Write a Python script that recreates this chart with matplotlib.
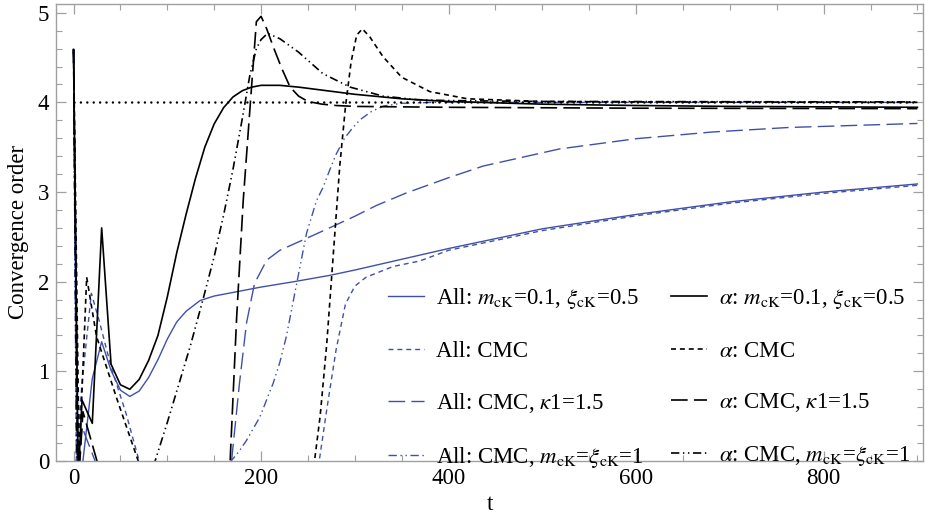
import matplotlib
matplotlib.use("Agg")
import matplotlib.pyplot as plt
from matplotlib.ticker import MultipleLocator

# --- data ---
t_all_m01 = [0, 5, 10, 20, 30, 40, 50, 60, 70, 80, 90, 100, 110, 120, 135, 150, 175, 200,
             235, 273, 300, 350, 400, 500, 600, 700, 800, 900]
y_all_m01 = [4.59, -0.6, 0.0, 0.92, 1.33, 1.01, 0.79, 0.72, 0.78, 0.93, 1.13, 1.36, 1.55, 1.67,
             1.79, 1.84, 1.89, 1.94, 2.0, 2.07, 2.13, 2.25, 2.37, 2.59, 2.75, 2.89, 3.0, 3.09]

t_all_cmc = [0, 3, 9, 19, 28, 40, 56, 70, 90, 250, 262, 270, 280, 290, 300, 312, 341, 369,
             400, 500, 600, 700, 800, 900]
y_all_cmc = [4.59, 0.0, 0.87, 1.87, 1.54, 1.05, 0.53, 0.0, -0.6, -1.0, 0.0, 0.57, 1.24, 1.75,
             1.95, 2.05, 2.17, 2.23, 2.35, 2.57, 2.735, 2.875, 2.985, 3.075]

t_all_k1 = [0, 4, 9, 23, 40, 160, 168.5, 177, 184.5, 193, 206, 220, 252, 273, 300, 323, 355,
            400, 437, 518, 600, 682, 763, 900]
y_all_k1 = [4.59, -0.3, 0.38, 0.0, -0.6, -1.4, 0.0, 0.87, 1.54, 1.98, 2.24, 2.35, 2.50, 2.60,
            2.73, 2.85, 2.99, 3.16, 3.29, 3.48, 3.595, 3.67, 3.72, 3.765]

t_all_m1 = [0, 3, 10, 160, 168, 176, 184.5, 198.7, 213, 220, 227, 238, 248.5, 259, 266, 273,
            280, 289, 298, 306, 318, 331, 350, 383, 900]
y_all_m1 = [4.59, 0.0, -0.5, -0.9, 0.0, 0.1, 0.23, 0.49, 0.87, 1.1, 1.39, 1.98, 2.54, 2.9,
            3.05, 3.24, 3.42, 3.6, 3.72, 3.81, 3.9, 3.96, 3.99, 4.0, 4.0]

t_a_m01 = [0, 5, 9, 20, 30, 40, 50, 60, 70, 80, 90, 100, 110, 120, 130, 140, 150, 160, 170,
           180, 190, 200, 220, 240, 270, 300, 350, 400, 500, 600, 700, 800, 900]
y_a_m01 = [4.59, -0.2, 0.68, 0.42, 2.6, 1.08, 0.85, 0.80, 0.91, 1.12, 1.40, 1.83, 2.32, 2.75,
           3.15, 3.5, 3.76, 3.94, 4.06, 4.13, 4.17, 4.19, 4.19, 4.17, 4.13, 4.09, 4.04, 4.01,
           3.98, 3.965, 3.955, 3.95, 3.945]

t_a_cmc = [0, 6, 14, 24.5, 46, 69, 90, 250, 257, 263, 270, 277, 284, 290, 296, 302, 308, 316,
           330, 350, 380, 420, 500, 600, 900]
y_a_cmc = [4.59, 0.0, 2.05, 1.39, 0.70, 0.0, -0.7, -1.2, 0.0, 0.5, 1.3, 2.3, 3.3, 3.95, 4.45,
           4.75, 4.82, 4.73, 4.51, 4.28, 4.12, 4.04, 4.01, 4.005, 4.0]

t_a_k1 = [0, 5, 10, 25, 40, 160, 167, 174, 181, 188, 195, 200, 206, 213, 222, 231, 240, 250,
          265, 280, 300, 400, 600, 900]
y_a_k1 = [4.59, -0.3, 0.55, 0.0, -0.6, -1.5, 0.0, 1.61, 2.91, 3.91, 4.9, 4.96, 4.82, 4.62,
          4.38, 4.17, 4.07, 4.01, 3.98, 3.965, 3.955, 3.945, 3.935, 3.93]

t_a_m1 = [0, 4, 20, 60, 87, 100, 113, 125, 138, 150, 160, 170, 180, 188, 195, 200, 207, 220,
          240, 266, 295, 330, 366, 400, 500, 900]
y_a_m1 = [4.59, -0.4, -1.0, -0.9, 0.0, 0.43, 0.88, 1.3, 1.8, 2.28, 2.74, 3.25, 3.82, 4.3, 4.6,
          4.7, 4.77, 4.71, 4.56, 4.32, 4.17, 4.07, 4.03, 4.02, 4.01, 4.005]

t_ref = [0, 900]
y_ref = [4, 4]

labels_all = ["All: $m_{\\rm cK}$=0.1, $\\xi_{\\rm cK}$=0.5",
              "All: CMC",
              "All: CMC, $\\kappa$1=1.5",
              "All: CMC, $m_{\\rm cK}$=$\\xi_{\\rm cK}$=1"]
labels_a = ["$\\alpha$: $m_{\\rm cK}$=0.1, $\\xi_{\\rm cK}$=0.5",
            "$\\alpha$: CMC",
            "$\\alpha$: CMC, $\\kappa$1=1.5",
            "$\\alpha$: CMC, $m_{\\rm cK}$=$\\xi_{\\rm cK}$=1"]

plt.rcParams['font.family'] = ['Liberation Serif', 'DejaVu Serif']
plt.rcParams['mathtext.fontset'] = 'stix'
plt.rcParams['lines.scale_dashes'] = False

azul = '#4050aa'
preto = 'black'
solido = '-'
tracejado = (0, (3.6, 2.8))
longo = (0, (12, 4.5))
traco_pontos = (0, (6, 2.6, 1, 2.6, 1, 2.6))
fs = 16.5

fig = plt.figure(figsize=(9.35, 5.28), dpi=100)
ax = fig.add_axes([0.0599, 0.1269, 0.9273, 0.866])

lw = 1.0
h = []
h += ax.plot(t_all_m01, y_all_m01, color=azul, lw=lw, ls=solido, label=labels_all[0])
h += ax.plot(t_all_cmc, y_all_cmc, color=azul, lw=lw, ls=tracejado, label=labels_all[1])
h += ax.plot(t_all_k1, y_all_k1, color=azul, lw=lw, ls=longo, label=labels_all[2])
h += ax.plot(t_all_m1, y_all_m1, color=azul, lw=lw, ls=traco_pontos, label=labels_all[3])
h += ax.plot(t_a_m01, y_a_m01, color=preto, lw=1.2, ls=solido, label=labels_a[0])
h += ax.plot(t_a_cmc, y_a_cmc, color=preto, lw=1.2, ls=tracejado, label=labels_a[1])
h += ax.plot(t_a_k1, y_a_k1, color=preto, lw=1.2, ls=longo, label=labels_a[2])
h += ax.plot(t_a_m1, y_a_m1, color=preto, lw=1.2, ls=traco_pontos, label=labels_a[3])

ax.plot(t_ref, y_ref, color='black', lw=1.8, ls=(0, (0.01, 4.6)), dash_capstyle='round')

ax.set_xlim(-18.7, 906)
ax.set_ylim(0, 5.1)
ax.xaxis.set_major_locator(MultipleLocator(200))
ax.xaxis.set_minor_locator(MultipleLocator(50))
ax.yaxis.set_major_locator(MultipleLocator(1))
ax.yaxis.set_minor_locator(MultipleLocator(0.2))

cinza = '#a0a0a0'
for s in ax.spines.values():
    s.set_color(cinza)
    s.set_linewidth(1.0)
ax.tick_params(which='both', direction='in', top=True, right=True, color=cinza,
               labelsize=fs, labelcolor='black')
ax.tick_params(which='major', length=7, width=0.9, pad=5)
ax.tick_params(which='minor', length=4, width=0.8)

ax.set_xlabel('t', fontsize=fs, labelpad=4)
ax.set_ylabel('Convergence order', fontsize=fs, labelpad=6)

ax.legend(handles=h, ncol=2, loc='lower left', bbox_to_anchor=(0.383, -0.02),
          frameon=False, fontsize=fs, handlelength=1.57, handletextpad=0.52,
          columnspacing=1.2, labelspacing=1.3, borderpad=0, borderaxespad=0)

fig.savefig('out.png', dpi=100)
